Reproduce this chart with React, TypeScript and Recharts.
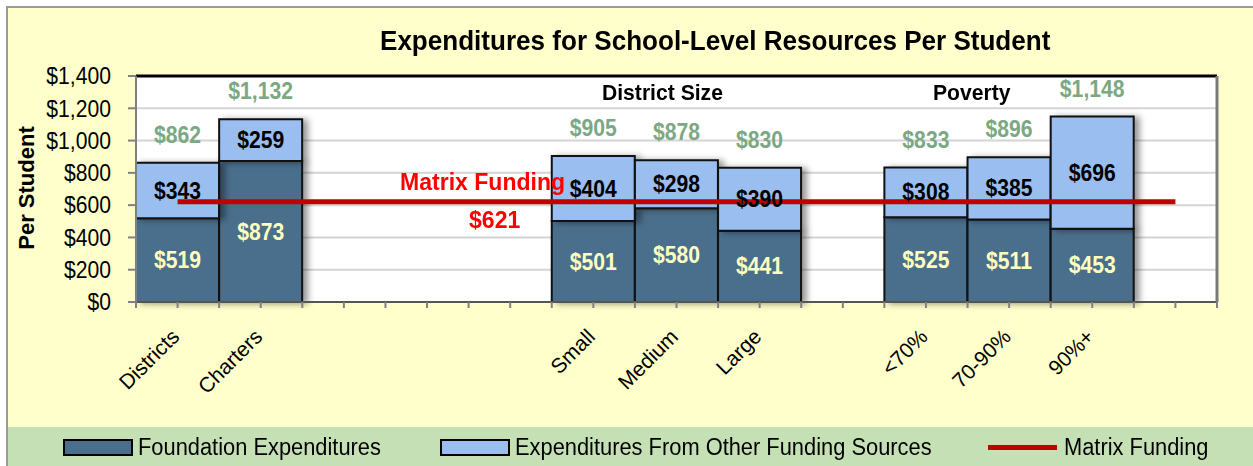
import React from "react";
import {
  ComposedChart,
  Bar,
  Line,
  XAxis,
  YAxis,
  CartesianGrid,
  LabelList,
  ReferenceLine,
} from "recharts";

const categories = ["Districts", "Charters", "", "", "", "Small", "Medium", "Large", "", "<70%", "70-90%", "90%+", ""];
const foundation = [519, 873, null, null, null, 501, 580, 441, null, 525, 511, 453, null];
const otherFunding = [343, 259, null, null, null, 404, 298, 390, null, 308, 385, 696, null];
const totals = [862, 1132, null, null, null, 905, 878, 830, null, 833, 896, 1148, null];
const matrixFunding = 621;
const yTicks = [0, 200, 400, 600, 800, 1000, 1200, 1400];

const data = categories.map((label, i) => ({
  key: "c" + i,
  label,
  foundation: foundation[i],
  other: otherFunding[i],
  total: totals[i],
  matrix: matrixFunding,
}));

const FONT = "'Liberation Sans', Arial, sans-serif";
const W = 1253;
const H = 466;
const M = { top: 76, right: 34, bottom: 44, left: 20 };
const PLOT_W = W - M.left - 116 - M.right - 2;
const BAND = PLOT_W / categories.length;
const SX = 0.92;

const money = (v: number) => "$" + v.toLocaleString("en-US");

const XTick = (props: any) => {
  const { x, y, index } = props;
  const label = categories[index] ?? "";
  const isLast = index === categories.length - 1;
  return (
    <g>
      <line x1={x} x2={x} y1={y} y2={y + 6} stroke="#808080" strokeWidth={2} />
      <line x1={x - BAND / 2} x2={x - BAND / 2} y1={y} y2={y + 6} stroke="#808080" strokeWidth={2} />
      {isLast && (
        <line x1={x + BAND / 2} x2={x + BAND / 2} y1={y} y2={y + 6} stroke="#808080" strokeWidth={2} />
      )}
      {label && (
        <text
          transform={`translate(${x + 3},${y + 36}) rotate(-45)`}
          textAnchor="end"
          fontSize={21}
          fontFamily={FONT}
          fill="#000"
        >
          {label}
        </text>
      )}
    </g>
  );
};

const YTick = (props: any) => {
  const { x, y, payload } = props;
  return (
    <text
      transform={`translate(${x},${y}) scale(${SX},1)`}
      dy="0.36em"
      textAnchor="end"
      fontSize={23}
      fontFamily={FONT}
      fill="#000"
    >
      {money(payload.value)}
    </text>
  );
};

const ValueText = ({ cx, by, color, value }: any) => (
  <text
    transform={`translate(${cx},${by}) scale(${SX},1)`}
    textAnchor="middle"
    fontSize={23}
    fontWeight="bold"
    fontFamily={FONT}
    fill={color}
  >
    {money(value)}
  </text>
);

const CenterLabel = (color: string) => (props: any) => {
  const { x, y, width, height, value } = props;
  if (value == null) return null;
  return <ValueText cx={x + width / 2} by={y + height / 2 + 8} color={color} value={value} />;
};

const TotalLabel = (props: any) => {
  const { x, y, width, value } = props;
  if (value == null) return null;
  return <ValueText cx={x + width / 2} by={y - 20} color="#7BA883" value={value} />;
};

const legendItems = [
  { label: "Foundation Expenditures", kind: "box", color: "#4A6F8C", left: 63 },
  { label: "Expenditures From Other Funding Sources", kind: "box", color: "#99BEEF", left: 440 },
  { label: "Matrix Funding", kind: "line", color: "#C00000", left: 988 },
];

const squeeze = (s: number): React.CSSProperties => ({
  display: "inline-block",
  transform: `scaleX(${s})`,
  transformOrigin: "left center",
});

export default function App() {
  return (
    <div
      style={{
        position: "absolute",
        left: 0,
        top: 0,
        width: W,
        height: H,
        background: "#fff",
        overflow: "hidden",
        fontFamily: FONT,
      }}
    >
      <style>{`.recharts-bar-rectangles { filter: drop-shadow(5px 1px 3px rgba(0,0,0,0.4)); }`}</style>
      <div
        style={{
          position: "absolute",
          left: 6,
          top: 6,
          width: W - 6,
          height: H - 6,
          background: "#FFFFCC",
          borderLeft: "2px solid #9A9A9A",
          borderTop: "2px solid #9A9A9A",
          boxSizing: "border-box",
        }}
      />
      <div
        style={{
          position: "absolute",
          left: 8,
          top: 427,
          width: W - 8,
          height: H - 427,
          background: "#C5E0B4",
        }}
      />
      <div style={{ position: "absolute", left: 0, top: 0 }}>
        <ComposedChart width={W} height={H} data={data} margin={M} barCategoryGap={0} barGap={0}>
          <CartesianGrid
            horizontal
            vertical={false}
            stroke="#D4D4D4"
            strokeWidth={2}
            fill="#FFFFFF"
            fillOpacity={1}
          />
          <XAxis
            dataKey="key"
            interval={0}
            tick={<XTick />}
            tickLine={false}
            tickSize={0}
            tickMargin={0}
            axisLine={{ stroke: "#555", strokeWidth: 2 }}
            height={120}
          />
          <YAxis
            domain={[0, 1400]}
            ticks={yTicks}
            interval={0}
            width={116}
            tickSize={8}
            tickMargin={17}
            tickLine={{ stroke: "#808080", strokeWidth: 2 }}
            axisLine={{ stroke: "#808080", strokeWidth: 2 }}
            tick={<YTick />}
          />
          <YAxis
            yAxisId="right"
            orientation="right"
            domain={[0, 1400]}
            width={2}
            tick={false}
            tickLine={false}
            axisLine={{ stroke: "#7A7A7A", strokeWidth: 3 }}
          />
          <ReferenceLine y={1400} stroke="#000" strokeWidth={3} />
          <Bar dataKey="foundation" stackId="s" fill="#4A6F8C" stroke="#111" strokeWidth={2} isAnimationActive={false}>
            <LabelList dataKey="foundation" content={CenterLabel("#FFFFC0")} />
          </Bar>
          <Bar dataKey="other" stackId="s" fill="#99BEEF" stroke="#111" strokeWidth={2} isAnimationActive={false}>
            <LabelList dataKey="other" content={CenterLabel("#000")} />
            <LabelList dataKey="total" content={TotalLabel} />
          </Bar>
          <Line
            dataKey="matrix"
            stroke="#C00000"
            strokeWidth={5}
            dot={false}
            activeDot={false}
            isAnimationActive={false}
          />
        </ComposedChart>
      </div>
      <div
        style={{
          position: "absolute",
          left: 380,
          top: 26,
          fontSize: 27,
          fontWeight: "bold",
          color: "#000",
          whiteSpace: "nowrap",
        }}
      >
        <span style={squeeze(0.965)}>Expenditures for School-Level Resources Per Student</span>
      </div>
      <div
        style={{
          position: "absolute",
          left: 27,
          top: 188,
          transform: "translate(-50%,-50%) rotate(-90deg)",
          fontSize: 22,
          fontWeight: "bold",
          whiteSpace: "nowrap",
        }}
      >
        Per Student
      </div>
      <div style={{ position: "absolute", left: 602, top: 80, fontSize: 22, fontWeight: "bold", whiteSpace: "nowrap" }}>
        <span style={squeeze(0.96)}>District Size</span>
      </div>
      <div style={{ position: "absolute", left: 933, top: 80, fontSize: 22, fontWeight: "bold", whiteSpace: "nowrap" }}>
        <span style={squeeze(0.96)}>Poverty</span>
      </div>
      <div style={{ position: "absolute", left: 400, top: 168, fontSize: 24, fontWeight: "bold", color: "#FF0000", whiteSpace: "nowrap" }}>
        <span style={squeeze(0.96)}>Matrix Funding</span>
      </div>
      <div style={{ position: "absolute", left: 469, top: 206, fontSize: 24, fontWeight: "bold", color: "#FF0000", whiteSpace: "nowrap" }}>
        <span style={squeeze(0.96)}>{money(matrixFunding)}</span>
      </div>
      {legendItems.map((it) => (
        <div
          key={it.label}
          style={{ position: "absolute", left: it.left, top: 434, height: 26, display: "flex", alignItems: "center", whiteSpace: "nowrap" }}
        >
          {it.kind === "box" ? (
            <div style={{ width: 66, height: 13, background: it.color, border: "2px solid #000", marginRight: 5 }} />
          ) : (
            <div style={{ width: 69, height: 5, background: it.color, marginRight: 7 }} />
          )}
          <span style={{ fontSize: 23, color: "#000", ...squeeze(0.95) }}>{it.label}</span>
        </div>
      ))}
    </div>
  );
}
